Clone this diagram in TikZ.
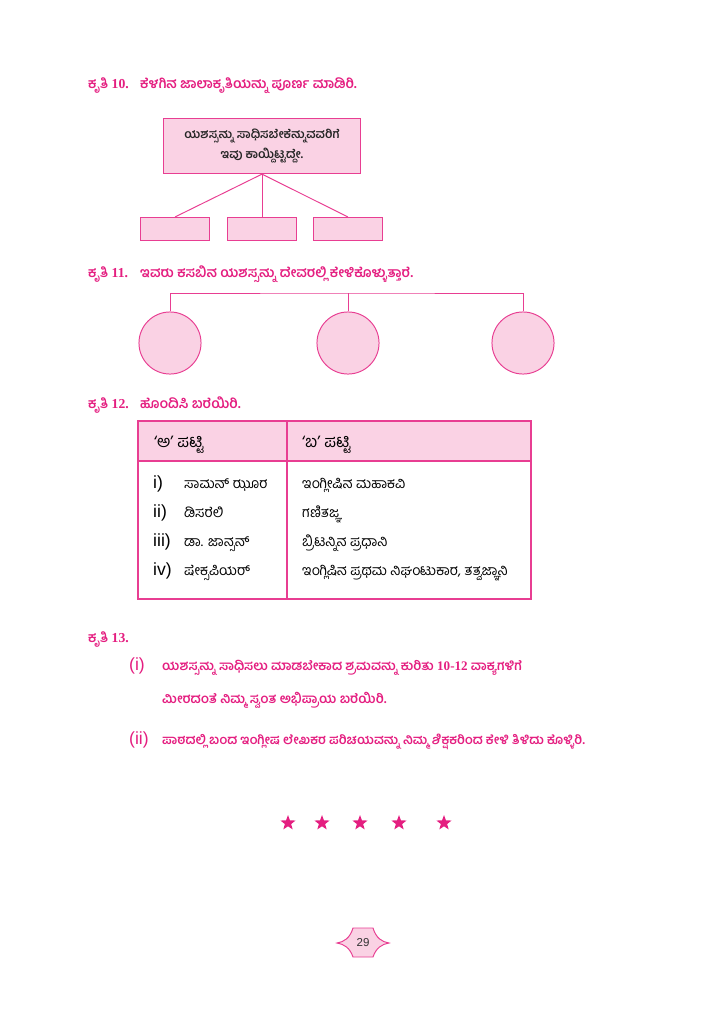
\documentclass[tikz,border=0pt]{standalone}
\usepackage{fontspec}
\newfontfamily\kn[Script=Kannada]{Hind Mysuru}
\newfontfamily\latnum{Liberation Serif}
\newfontfamily\latsans{Liberation Sans}
\usetikzlibrary{positioning,shapes.geometric}
\definecolor{kpink}{RGB}{228,30,128}
\definecolor{kline}{RGB}{232,62,146}
\definecolor{kfill}{RGB}{250,210,228}
\tikzset{
  head/.style   = {anchor=base west, inner sep=0pt, text=kpink,
  font=\kn\bfseries\fontsize{11.3}{14}\selectfont},
  task/.style   = {head, font=\kn\bfseries\fontsize{10.8}{14}\selectfont},
  goal/.style   = {draw=kline, fill=kfill, line width=0.9pt, align=center,
  font=\kn\bfseries\fontsize{10}{17}\selectfont, text=black!85,
  minimum width=57mm, minimum height=16mm, inner sep=0pt},
  blank/.style  = {draw=kline, fill=kfill, line width=0.8pt, rectangle,
  minimum width=20mm, minimum height=6.7mm, inner sep=0pt},
  bubble/.style = {draw=kline, fill=kfill, line width=0.8pt, circle,
  minimum size=18mm, inner sep=0pt},
  cell/.style   = {anchor=base west, inner sep=0pt,
  font=\kn\fontsize{11.6}{13}\selectfont},
  cellhead/.style = {cell, font=\kn\fontsize{13.5}{15}\selectfont},
  rnum/.style   = {anchor=base west, inner sep=0pt,
  font=\latsans\fontsize{14.5}{16}\selectfont},
  starmark/.style = {star, star points=5, star point ratio=2.4, fill=kpink,
  minimum size=4.6mm, inner sep=0pt},
  link/.style   = {draw=kline, line width=0.8pt}
}

\begin{document}
\begin{tikzpicture}[x=0.29mm, y=-0.29mm]
\useasboundingbox (0,0) rectangle (724,1024);

% task 10 : the tree of boxes
\node[head] (h10num) at (88,88) {ಕೃತಿ {\latnum 10.}};
\node[head] (h10) at (140,88) {ಕೆಳಗಿನ ಜಾಲಾಕೃತಿಯನ್ನು ಪೂರ್ಣ ಮಾಡಿರಿ.};

\node[goal] (goal) at (262,146) {ಯಶಸ್ಸನ್ನು ಸಾಧಿಸಬೇಕೆನ್ನುವವರಿಗೆ\\ಇವು ಕಾಯ್ದಿಟ್ಟದ್ದೇ.};
\node[blank, below=12.4mm of goal] (b2) {};
\node[blank, left=4.9mm of b2] (b1) {};
\node[blank, right=4.6mm of b2] (b3) {};
\foreach \i in {1,2,3}
  \draw[link] (goal.south) -- (b\i.north);

% task 11 : three circles on a bar
\node[head] (h11num) at (88,277) {ಕೃತಿ {\latnum 11.}};
\node[head] (h11) at (140,277) {ಇವರು ಕಸಬಿನ ಯಶಸ್ಸನ್ನು ದೇವರಲ್ಲಿ ಕೇಳಿಕೊಳ್ಳುತ್ತಾರೆ.};

\foreach \cx [count=\i] in {170,348,523}
  \node[bubble] (c\i) at (\cx,343) {};
\coordinate (bar) at (348,293);
\draw[link] (c1.north) |- (bar) -| (c3.north);
\draw[link] (c2.north) -- (c2.north |- bar);

% task 12 : the matching table
\node[head] (h12num) at (88,408) {ಕೃತಿ {\latnum 12.}};
\node[head] (h12) at (140,408) {ಹೊಂದಿಸಿ ಬರೆಯಿರಿ.};

\fill[kfill] (138,421) rectangle (531,461);
\draw[kline, line width=0.9pt] (138,421) rectangle (531,599);
\draw[kline, line width=0.9pt] (138,461) -- (531,461);
\draw[kline, line width=0.9pt] (287,421) -- (287,599);

\node[cellhead] (colA) at (154,447) {‘ಅ’ ಪಟ್ಟಿ};
\node[cellhead] (colB) at (302,447) {‘ಬ’ ಪಟ್ಟಿ};

\foreach \rn/\who/\what [count=\i] in {
    i)/ಸಾಮನ್ ಝೂರ/ಇಂಗ್ಲೀಷಿನ ಮಹಾಕವಿ,
    ii)/ಡಿಸರೆಲಿ/ಗಣಿತಜ್ಞ,
    iii)/ಡಾ. ಜಾನ್ಸನ್/ಬ್ರಿಟನ್ನಿನ ಪ್ರಧಾನಿ,
    iv)/ಷೇಕ್ಸಪಿಯರ್/{ಇಂಗ್ಲಿಷಿನ ಪ್ರಥಮ ನಿಘಂಟುಕಾರ, ತತ್ವಜ್ಞಾನಿ}} {
  \pgfmathsetmacro\ry{488+29.3*(\i-1)}
  \node[rnum] (r\i) at (153,\ry) {\rn};
  \node[cell] (a\i) at (184,\ry) {\who};
  \node[cell] (m\i) at (302,\ry) {\what};
}

% task 13
\node[head] (h13num) at (88,642) {ಕೃತಿ {\latnum 13.}};
\node[rnum, text=kpink] (q1num) at (129,670) {(i)};
\node[task] (q1a) at (162,670) {ಯಶಸ್ಸನ್ನು ಸಾಧಿಸಲು ಮಾಡಬೇಕಾದ ಶ್ರಮವನ್ನು ಕುರಿತು {\latnum 10-12} ವಾಕ್ಯಗಳಿಗೆ};
\node[task] (q1b) at (162,703) {ಮೀರದಂತೆ ನಿಮ್ಮ ಸ್ವಂತ ಅಭಿಪ್ರಾಯ ಬರೆಯಿರಿ.};
\node[rnum, text=kpink] (q2num) at (129,744) {(ii)};
\node[task, font=\kn\bfseries\fontsize{10.55}{14}\selectfont] (q2) at (162,744) {ಪಾಠದಲ್ಲಿ ಬಂದ ಇಂಗ್ಲೀಷ ಲೇಖಕರ ಪರಿಚಯವನ್ನು ನಿಮ್ಮ ಶಿಕ್ಷಕರಿಂದ ಕೇಳಿ ತಿಳಿದು ಕೊಳ್ಳಿರಿ.};

% stars
\foreach \sx [count=\i] in {288,322,360,399,444}
  \node[starmark] (s\i) at (\sx,823) {};

% page number badge
\draw[kline, fill=kfill, line width=0.8pt]
  (353,928) -- (373,928) .. controls (376,938) and (382,942) .. (389,943)
  .. controls (382,944) and (376,948) .. (373,957) -- (353,957)
  .. controls (350,948) and (344,944) .. (337,943)
  .. controls (344,942) and (350,938) .. (353,928) -- cycle;
\node[font=\latsans\fontsize{9.5}{11}\selectfont, text=black!80] (page) at (363,943) {29};
\end{tikzpicture}
\end{document}
